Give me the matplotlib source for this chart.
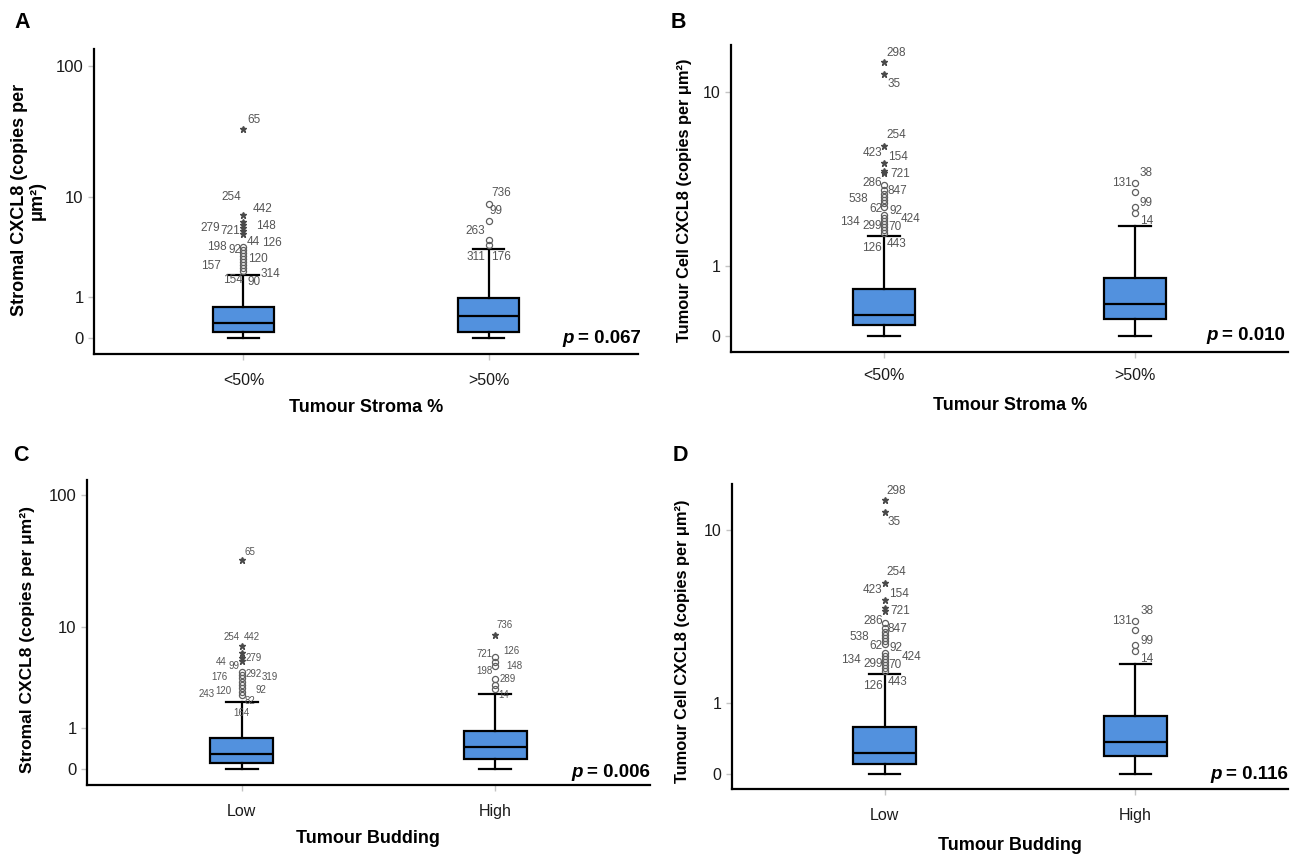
"""SPSS-style CXCL8 boxplots (stroma % / tumour budding), 2x2 panels."""

import numpy as np
import matplotlib
matplotlib.use("Agg")
import matplotlib.pyplot as plt
from matplotlib.ticker import NullLocator

plt.rcParams.update({
    "font.family": ["Liberation Sans", "DejaVu Sans"],
})

BOX_BLUE = "#5291de"

# ---- data -----------------------------------------------------------------
# box stats: whislo, q1, median, q3, whishi
A_BOX = [[0.0, 0.11, 0.296, 0.70, 1.92], [0.0, 0.118, 0.458, 0.989, 3.51]]
B_BOX = [[0.0, 0.111, 0.229, 0.593, 1.684], [0.0, 0.186, 0.370, 0.775, 1.95]]
C_BOX = [[0.0, 0.106, 0.287, 0.686, 2.12], [0.0, 0.195, 0.448, 0.906, 2.56]]
D_BOX = [[0.0, 0.106, 0.229, 0.586, 1.678], [0.0, 0.189, 0.369, 0.773, 1.944]]

# outliers ('o' = outlier, '*' = extreme)
A_LOW_OUT = [33.4, 7.07, 6.16, 5.81, 5.47, 5.15, 4.85,
             3.69, 3.46, 3.24, 3.03, 2.83, 2.64, 2.46, 2.29, 2.13]
A_LOW_KIND = list("*******") + list("ooooooooo")
A_LOW_LABELS = ["65", "442", "254", "148", "721", "279", "44", "126", "198",
                "92", "120", "157", "314", "154", "90"]
A_LOW_LABEL_AT = [33.4, 7.07, 7.07, 6.16, 5.81, 5.47, 3.69, 3.69, 3.69,
                  3.46, 2.83, 2.46, 2.13, 2.13, 2.13]

A_HIGH_OUT = [8.72, 6.29, 4.24, 3.85]
A_HIGH_KIND = list("oooo")
A_HIGH_LABELS = ["736", "99", "263", "311", "176"]
A_HIGH_LABEL_AT = [8.72, 8.72, 4.24, 3.85, 3.85]

TC_LOW_OUT = [13.8, 12.13, 5.51, 4.50, 4.09, 3.98,
              3.42, 3.21, 3.05, 2.93, 2.81, 2.70, 2.57, 2.29, 2.19, 2.10,
              2.01, 1.92, 1.84, 1.76]
TC_LOW_KIND = list("******") + list("oooooooooooooo")
TC_LOW_LABELS = ["298", "35", "254", "423", "154", "721", "286", "847", "538",
                 "62", "92", "424", "134", "299", "70", "126", "443"]
TC_LOW_LABEL_AT = [13.8, 12.13, 5.51, 5.51, 4.50, 4.09, 3.42, 3.21, 2.81,
                   2.57, 2.57, 2.19, 2.10, 2.01, 2.01, 1.76, 1.76]

TC_HIGH_OUT = [3.49, 3.11, 2.56, 2.35]
TC_HIGH_KIND = list("oooo")
TC_HIGH_LABELS = ["131", "38", "99", "14"]
TC_HIGH_LABEL_AT = [3.49, 3.49, 2.56, 2.35]

C_LOW_OUT = [33.0, 7.02, 6.13, 5.55, 5.20,
             4.18, 3.90, 3.63, 3.37, 3.14, 2.91, 2.70, 2.50]
C_LOW_KIND = list("*****") + list("oooooooo")
C_LOW_LABELS = ["65", "254", "442", "279", "44", "99", "292", "319", "176",
                "120", "243", "92", "82", "164"]
C_LOW_LABEL_AT = [33.0, 7.02, 7.02, 5.55, 4.18, 4.18, 3.90, 3.90, 3.90,
                  2.70, 2.50, 2.70, 2.50, 2.50]

C_HIGH_OUT = [8.60, 5.66, 5.10, 4.70, 3.58, 3.12, 2.85]
C_HIGH_KIND = list("*oooooo")
C_HIGH_LABELS = ["736", "721", "126", "198", "148", "289", "14"]
C_HIGH_LABEL_AT = [8.60, 5.66, 5.66, 4.70, 4.70, 3.58, 2.85]

STROMA_CATS = ["<50%", ">50%"]
BUDDING_CATS = ["Low", "High"]
P_VALUES = ["0.067", "0.010", "0.006", "0.116"]

# ---- label placement (pixel offsets from the marker, ha) --------------------
A_LOW_POS = [(4, 9, "left"), (9, 6, "left"), (-2, 18, "right"), (13, -4, "left"),
             (-3, -6, "right"), (-23, 0, "right"), (3, 5, "left"), (19, 4, "left"),
             (-17, 0, "right"), (-2, 0, "right"), (5, 0, "left"), (-23, -1, "right"),
             (17, -3, "left"), (-1, -9, "right"), (4, -11, "left")]
A_HIGH_POS = [(3, 11, "left"), (1, -7, "left"), (-3, 9, "right"),
              (-3, -12, "right"), (3, -12, "left")]
TC_LOW_POS = [(2, 9, "left"), (3, -10, "left"), (2, 11, "left"), (-2, -7, "right"),
              (4, 6, "left"), (6, -3, "left"), (-2, 2, "right"), (3, -1, "left"),
              (-16, 1, "right"), (-2, -2, "right"), (5, -4, "left"), (17, -1, "left"),
              (-24, -1, "right"), (-2, -2, "right"), (4, -3, "left"),
              (-2, -15, "right"), (3, -11, "left")]
TC_HIGH_POS = [(-3, 0, "right"), (5, 10, "left"), (5, 4, "left"), (5, -8, "left")]
C_LOW_POS = [(3, 8, "left"), (-2, 9, "right"), (2, 9, "left"), (4, 0, "left"),
             (-15, 10, "right"), (-2, 6, "right"), (4, 1, "left"), (20, -2, "left"),
             (-14, -2, "right"), (-10, 1, "right"), (-27, 1, "right"), (14, 2, "left"),
             (3, -6, "left"), (0, -18, "center")]
C_HIGH_POS = [(1, 10, "left"), (-3, 3, "right"), (8, 6, "left"), (-3, -5, "right"),
              (11, 0, "left"), (4, 0, "left"), (3, -6, "left")]


def fwd(v):
    return np.log10(np.maximum(np.asarray(v, dtype=float) + 1.0, 1e-9))


def inv(t):
    return 10.0 ** np.asarray(t, dtype=float) - 1.0


def to_stats(box):
    lo, q1, med, q3, hi = box
    return dict(whislo=lo, q1=q1, med=med, q3=q3, whishi=hi, fliers=[])


def draw_outliers(ax, pos, vals, kinds, labels, label_at, label_pos, fs):
    for v, k in zip(vals, kinds):
        if k == "o":
            ax.plot(pos, v, "o", mfc="none", mec="#5f5f5f", ms=4.4, mew=0.9,
                    zorder=4)
        else:
            ax.plot(pos, v, marker="*", color="#4a4a4a", ms=4.6,
                    linestyle="none", zorder=4)
    for txt, at, (dx, dy, ha) in zip(labels, label_at, label_pos):
        ax.annotate(txt, (pos, at), xytext=(dx, dy), textcoords="offset pixels",
                    ha=ha, va="center", fontsize=fs, color="#555555", zorder=5)


def p_text(ax, x, y, val):
    t = ax.text(x, y, f"= {val}", transform=ax.transAxes, ha="right",
                va="baseline", fontsize=13.5, fontweight="bold")
    ax.annotate("p", xy=(0, 0), xycoords=t, xytext=(-4, 0),
                textcoords="offset pixels", ha="right", va="bottom",
                fontsize=13.5, fontweight="bold", fontstyle="italic")


W, H = 1298, 855
fig = plt.figure(figsize=(W / 100, H / 100), dpi=100)


def add_axes(left, right, top, bottom):
    return fig.add_axes([left / W, 1 - bottom / H, (right - left) / W,
                         (bottom - top) / H])


panels = [
    dict(rect=(94, 638, 49, 354), box=A_BOX, ylim=(-0.233, 133),
         yticks=[0, 1, 10, 100], cats=STROMA_CATS, ytfs=12, xtfs=11.5,
         low=(A_LOW_OUT, A_LOW_KIND, A_LOW_LABELS, A_LOW_LABEL_AT, A_LOW_POS),
         high=(A_HIGH_OUT, A_HIGH_KIND, A_HIGH_LABELS, A_HIGH_LABEL_AT, A_HIGH_POS),
         lfs=8.5, p=P_VALUES[0], pxy=(1.006, 0.036), xpad=9),
    dict(rect=(731, 1288, 45, 352), box=B_BOX, ylim=(-0.1456, 16.5),
         yticks=[0, 1, 10], cats=STROMA_CATS, ytfs=11.5, xtfs=11.5,
         low=(TC_LOW_OUT, TC_LOW_KIND, TC_LOW_LABELS, TC_LOW_LABEL_AT, TC_LOW_POS),
         high=(TC_HIGH_OUT, TC_HIGH_KIND, TC_HIGH_LABELS, TC_HIGH_LABEL_AT, TC_HIGH_POS),
         lfs=8.5, p=P_VALUES[1], pxy=(0.995, 0.039), xpad=7),
    dict(rect=(87, 650, 480, 785), box=C_BOX, ylim=(-0.232, 129.7),
         yticks=[0, 1, 10, 100], cats=BUDDING_CATS, ytfs=12, xtfs=11.5,
         low=(C_LOW_OUT, C_LOW_KIND, C_LOW_LABELS, C_LOW_LABEL_AT, C_LOW_POS),
         high=(C_HIGH_OUT, C_HIGH_KIND, C_HIGH_LABELS, C_HIGH_LABEL_AT, C_HIGH_POS),
         lfs=7, p=P_VALUES[2], pxy=(1.0, 0.027), xpad=9),
    dict(rect=(732, 1288, 484, 789), box=D_BOX, ylim=(-0.137, 16.25),
         yticks=[0, 1, 10], cats=BUDDING_CATS, ytfs=11.5, xtfs=11.5,
         low=(TC_LOW_OUT, TC_LOW_KIND, TC_LOW_LABELS, TC_LOW_LABEL_AT, TC_LOW_POS),
         high=(TC_HIGH_OUT, TC_HIGH_KIND, TC_HIGH_LABELS, TC_HIGH_LABEL_AT, TC_HIGH_POS),
         lfs=8.5, p=P_VALUES[3], pxy=(1.0, 0.033), xpad=9),
]

for pn in panels:
    ax = add_axes(*pn["rect"])
    ax.set_yscale("function", functions=(fwd, inv))
    ax.bxp([to_stats(b) for b in pn["box"]], positions=[1, 2], widths=0.25,
           capwidths=0.125, patch_artist=True, showfliers=False,
           boxprops=dict(facecolor=BOX_BLUE, edgecolor="black", linewidth=1.6),
           whiskerprops=dict(color="black", linewidth=1.6),
           capprops=dict(color="black", linewidth=1.6),
           medianprops=dict(color="black", linewidth=1.6))
    draw_outliers(ax, 1, *pn["low"], pn["lfs"])
    draw_outliers(ax, 2, *pn["high"], pn["lfs"])

    ax.set_xlim(0.39, 2.61)
    ax.set_ylim(*pn["ylim"])
    ax.set_xticks([1, 2], pn["cats"], fontsize=pn["xtfs"])
    ax.set_yticks(pn["yticks"], [str(v) for v in pn["yticks"]],
                  fontsize=pn["ytfs"])
    ax.yaxis.set_minor_locator(NullLocator())
    ax.tick_params(axis="both", direction="out", length=4.5, width=1,
                   color="#c4c4c4", labelcolor="#1a1a1a")
    ax.tick_params(axis="x", pad=pn["xpad"])
    ax.tick_params(axis="y", pad=3)
    for s in ("top", "right"):
        ax.spines[s].set_visible(False)
    for s in ("left", "bottom"):
        ax.spines[s].set_linewidth(1.6)
        ax.spines[s].set_color("black")
    p_text(ax, pn["pxy"][0], pn["pxy"][1], pn["p"])


def ftext(x, y, s, **kw):
    fig.text(x / W, 1 - y / H, s, ha="center", va="center", **kw)


# panel letters
for (x, y), letter in zip([(22, 22), (678, 22), (21, 455), (680, 455)], "ABCD"):
    ftext(x, y, letter, fontsize=15.5, fontweight="bold")

# axis titles
ftext(28, 200, "Stromal CXCL8 (copies per\nμm²)", rotation=90, fontsize=13,
      fontweight="bold", linespacing=1.05)
ftext(684, 200, "Tumour Cell CXCL8 (copies per μm²)", rotation=90,
      fontsize=11.8, fontweight="bold")
ftext(28, 639, "Stromal CXCL8 (copies per μm²)", rotation=90, fontsize=12.5,
      fontweight="bold")
ftext(683, 641, "Tumour Cell CXCL8 (copies per μm²)", rotation=90,
      fontsize=11.8, fontweight="bold")

ftext(366, 408, "Tumour Stroma %", fontsize=13, fontweight="bold")
ftext(1010, 405, "Tumour Stroma %", fontsize=13, fontweight="bold")
ftext(368, 838, "Tumour Budding", fontsize=13, fontweight="bold")
ftext(1010, 845, "Tumour Budding", fontsize=13, fontweight="bold")

fig.savefig("out.png", dpi=100)
